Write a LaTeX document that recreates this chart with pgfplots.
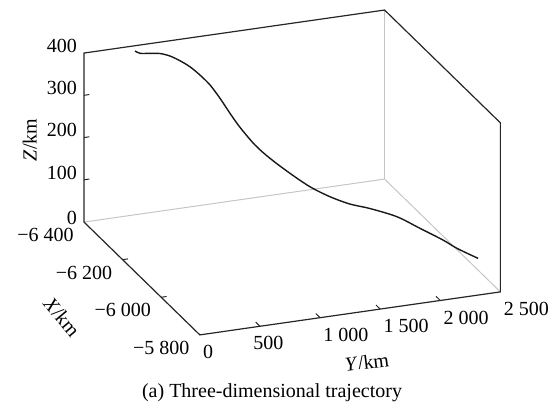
\documentclass[border=0pt]{standalone}
\usepackage{fontspec}
\setmainfont{Liberation Serif}
\usepackage{pgfplots}
\pgfplotsset{compat=1.18}
\begin{document}
\begin{tikzpicture}
\begin{axis}[
  x={(0.0965pt,-0.094pt)},
  y={(0.0601pt,0.0086pt)},
  z={(0pt,0.21125pt)},
  xmin=-6400, xmax=-5800,
  ymin=0, ymax=2500,
  zmin=0, zmax=400,
  clip=false,
  axis line style={draw=none},
  tick style={draw=none},
  major tick length=2.5pt,
  xtick={-6400,-6200,-6000,-5800},
  xticklabels={−6~400,−6~200,−6~000,−5~800},
  ytick={0,500,1000,1500,2000,2500},
  yticklabels={0,\hspace*{-5pt}500,1~000,1~500,2~000,2~500},
  ztick={0,100,200,300,400},
  zticklabels={0,100,200,300,400},
  ticklabel style={font=\fontsize{10}{12}\selectfont},
  xticklabel style={anchor=east, inner sep=0pt, xshift=-5pt, yshift=-6.5pt},
  yticklabel style={anchor=north west, inner sep=0pt, xshift=1.5pt, yshift=-5pt},
  xlabel={\textit{X}/km},
  ylabel={\textit{Y}/km},
  zlabel={\textit{Z}/km},
  every axis x label/.style={at={(rel axis cs:0.71,-0.347,0)}, anchor=center, rotate=-50, font=\fontsize{10}{12}\selectfont},
  every axis y label/.style={at={(rel axis cs:1.395,0.404,0)}, anchor=center, rotate=7, font=\fontsize{10}{12}\selectfont},
  every axis z label/.style={at={(rel axis cs:0,-0.18,0.531)}, anchor=center, rotate=90, font=\fontsize{10}{12}\selectfont},
]
% box edges
\draw[gray!45, line width=0.5pt] (axis cs:-6400,2500,0) -- (axis cs:-6400,0,0);
\draw[gray!45, line width=0.5pt] (axis cs:-6400,2500,0) -- (axis cs:-5800,2500,0);
\draw[gray!45, line width=0.5pt] (axis cs:-6400,2500,0) -- (axis cs:-6400,2500,400);
\draw[black!85, line width=0.6pt] (axis cs:-6400,0,0) -- (axis cs:-6400,0,400) -- (axis cs:-6400,2500,400) -- (axis cs:-5800,2500,400) -- (axis cs:-5800,2500,0) -- (axis cs:-5800,0,0) -- cycle;
% ticks
\draw[black!85, line width=0.5pt] (axis cs:-6400,0,100) -- (axis cs:-6400,45,100);
\draw[black!85, line width=0.5pt] (axis cs:-6400,0,200) -- (axis cs:-6400,45,200);
\draw[black!85, line width=0.5pt] (axis cs:-6400,0,300) -- (axis cs:-6400,45,300);
\draw[black!85, line width=0.5pt] (axis cs:-6200,0,0) -- (axis cs:-6200,45,0);
\draw[black!85, line width=0.5pt] (axis cs:-6000,0,0) -- (axis cs:-6000,45,0);
\draw[black!85, line width=0.5pt] (axis cs:-5800,500,0) -- (axis cs:-5822,500,0);
\draw[black!85, line width=0.5pt] (axis cs:-5800,1000,0) -- (axis cs:-5822,1000,0);
\draw[black!85, line width=0.5pt] (axis cs:-5800,1500,0) -- (axis cs:-5822,1500,0);
\draw[black!85, line width=0.5pt] (axis cs:-5800,2000,0) -- (axis cs:-5822,2000,0);
\addplot3[black!90, line width=0.7pt, smooth] coordinates {
(-6387.2,404,394.0)
(-6384.8,441.8,388.1)
(-6379.2,515.7,387.5)
(-6372.8,588.6,387.0)
(-6365.7,660.4,381.3)
(-6358.3,731.0,370.6)
(-6349.9,800.6,357.3)
(-6341.0,870.2,338.7)
(-6331.2,938.2,316.7)
(-6321.0,1004.8,287.0)
(-6310.4,1070.8,253.5)
(-6299.2,1136.0,222.7)
(-6281.4,1232.2,184.9)
(-6262.5,1326.7,157.9)
(-6235.7,1450.0,129.3)
(-6207.3,1570.7,105.3)
(-6177.2,1688.8,90.3)
(-6145.6,1804.5,82.3)
(-6112.6,1917.9,81.8)
(-6066.0,2067.6,77.0)
(-6024.5,2192.4,62.9)
(-5981.5,2314.6,49.4)
(-5954.6,2387.8,38.7)
(-5913.2,2496.2,29.1)
};
\node[font=\fontsize{10}{12}\selectfont] at (rel axis cs:1.5296,0.0361,0) {(a) Three-dimensional trajectory};
\path (rel axis cs:0,-0.2795,1.385) rectangle (rel axis cs:1.934,0.8185,0);
\end{axis}
\end{tikzpicture}
\end{document}
